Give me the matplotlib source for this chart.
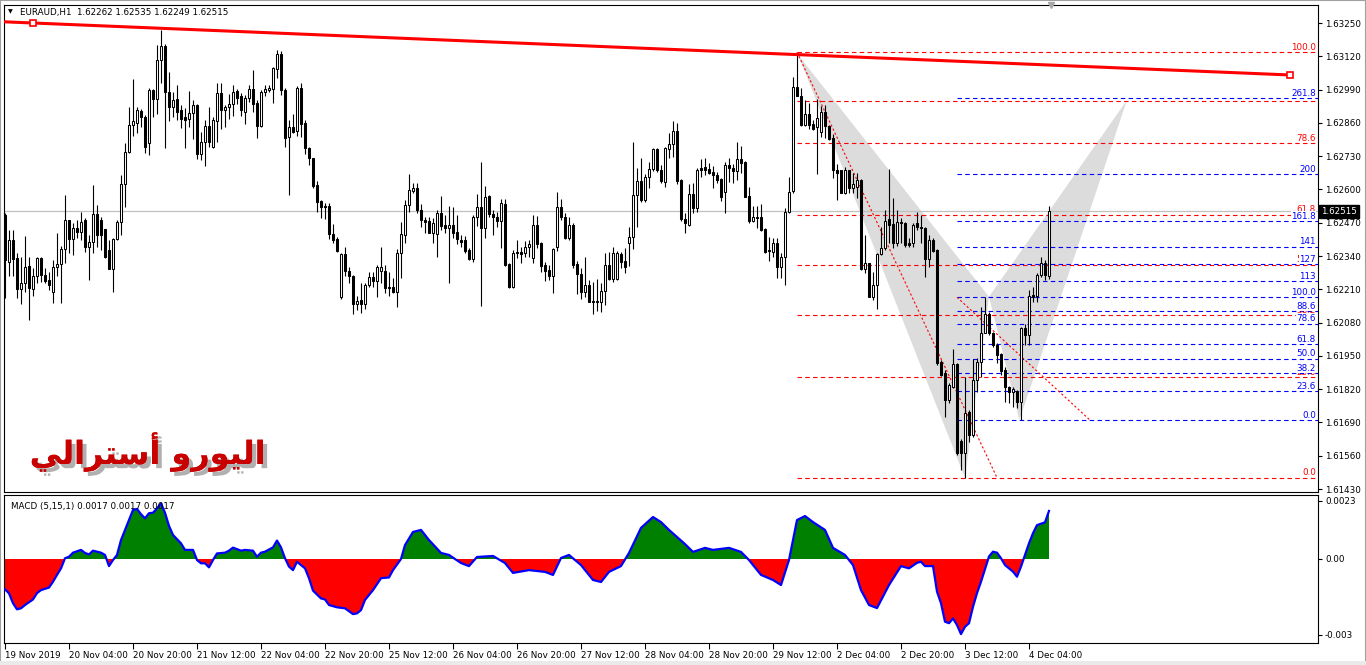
import numpy as np
import matplotlib
matplotlib.use('Agg')
import matplotlib.pyplot as plt
from matplotlib import patheffects as pe
from matplotlib.transforms import blended_transform_factory
from matplotlib.patches import Rectangle

# ---------------- data (EURAUD H1, bar 0 = 19 Nov 2019 12:00) ----------------
opens = [1.62500,1.62318,1.62403,1.62331,1.62210,1.62233,1.62301,1.62210,1.62260,1.62334,
1.62266,1.62246,1.62201,1.62296,1.62308,1.62366,1.62481,1.62405,1.62448,1.62433,
1.62481,1.62377,1.62396,1.62504,1.62481,1.62444,1.62364,1.62288,1.62407,1.62472,
1.62621,1.62745,1.62852,1.62858,1.62907,1.62884,1.62780,1.62989,1.62952,1.63106,
1.63160,1.62980,1.62921,1.62952,1.62911,1.62882,1.62874,1.62897,1.62930,1.62737,
1.62784,1.62848,1.62767,1.62868,1.62978,1.62911,1.62921,1.62934,1.62985,1.62965,
1.62901,1.62956,1.62991,1.62937,1.62848,1.62982,1.62989,1.62993,1.63069,1.63128,
1.62989,1.62804,1.62845,1.62830,1.62995,1.62858,1.62763,1.62722,1.62618,1.62556,
1.62535,1.62535,1.62426,1.62405,1.62179,1.62347,1.62283,1.62262,1.62151,1.62168,
1.62151,1.62226,1.62257,1.62244,1.62283,1.62283,1.62220,1.62218,1.62201,1.62351,
1.62422,1.62539,1.62595,1.62604,1.62519,1.62480,1.62476,1.62431,1.62424,1.62506,
1.62463,1.62448,1.62461,1.62433,1.62402,1.62402,1.62363,1.62328,1.62493,1.62530,
1.62450,1.62574,1.62504,1.62493,1.62478,1.62545,1.62308,1.62220,1.62357,1.62357,
1.62353,1.62374,1.62331,1.62461,1.62392,1.62305,1.62285,1.62263,1.62374,1.62530,
1.62491,1.62411,1.62461,1.62308,1.62269,1.62200,1.62226,1.62164,1.62164,1.62161,
1.62204,1.62305,1.62250,1.62252,1.62348,1.62320,1.62392,1.62415,1.62578,1.62633,
1.62558,1.62647,1.62678,1.62756,1.62676,1.62630,1.62756,1.62776,1.62828,1.62637,
1.62484,1.62461,1.62584,1.62526,1.62682,1.62686,1.62678,1.62669,1.62656,1.62640,
1.62591,1.62695,1.62682,1.62672,1.62717,1.62708,1.62574,1.62478,1.62493,1.62491,
1.62444,1.62363,1.62357,1.62389,1.62298,1.62335,1.62513,1.62592,1.62999,1.62965,
1.62852,1.62895,1.62856,1.62843,1.62826,1.62904,1.62848,1.62800,1.62676,1.62674,
1.62588,1.62674,1.62605,1.62611,1.62637,1.62288,1.62311,1.62181,1.62227,1.62347,
1.62373,1.62483,1.62465,1.62392,1.62474,1.62470,1.62390,1.62390,1.62468,1.62455,
1.62448,1.62327,1.62403,1.62364,1.61927,1.61882,1.61778,1.61830,1.61918,1.61619,
1.61569,1.61732,1.61641,1.61856,1.61927,1.62041,1.62114,1.62041,1.61992,1.61957,
1.61895,1.61827,1.61810,1.61814,1.61771,1.62058,1.62031,1.62188,1.62184,1.62266,
1.62311,1.62262]

highs = [1.62509,1.62442,1.62442,1.62351,1.62335,1.62418,1.62335,1.62292,1.62335,1.62335,
1.62292,1.62279,1.62325,1.62429,1.62379,1.62578,1.62481,1.62468,1.62481,1.62513,
1.62487,1.62422,1.62618,1.62539,1.62494,1.62444,1.62403,1.62409,1.62481,1.62657,
1.62780,1.62921,1.63030,1.62921,1.62913,1.62891,1.62995,1.62991,1.63164,1.63223,
1.63168,1.63060,1.62982,1.63008,1.62930,1.62917,1.62986,1.62950,1.62934,1.62823,
1.62871,1.62921,1.62882,1.63017,1.63015,1.62930,1.62973,1.63008,1.62991,1.62978,
1.62969,1.63008,1.63067,1.62950,1.62989,1.63008,1.63008,1.63080,1.63145,1.63142,
1.62998,1.62871,1.62895,1.63002,1.63017,1.62871,1.62767,1.62722,1.62633,1.62559,
1.62548,1.62546,1.62465,1.62416,1.62351,1.62377,1.62296,1.62266,1.62184,1.62233,
1.62233,1.62279,1.62279,1.62305,1.62377,1.62305,1.62279,1.62253,1.62366,1.62474,
1.62559,1.62659,1.62624,1.62624,1.62545,1.62493,1.62493,1.62487,1.62519,1.62574,
1.62500,1.62535,1.62532,1.62502,1.62422,1.62418,1.62370,1.62500,1.62581,1.62708,
1.62613,1.62578,1.62519,1.62513,1.62561,1.62561,1.62311,1.62363,1.62402,1.62376,
1.62400,1.62402,1.62502,1.62496,1.62396,1.62318,1.62305,1.62370,1.62591,1.62561,
1.62506,1.62493,1.62467,1.62321,1.62292,1.62337,1.62246,1.62239,1.62249,1.62233,
1.62350,1.62357,1.62376,1.62361,1.62357,1.62370,1.62452,1.62784,1.62682,1.62721,
1.62660,1.62708,1.62760,1.62760,1.62695,1.62767,1.62819,1.62868,1.62860,1.62640,
1.62506,1.62621,1.62624,1.62682,1.62717,1.62721,1.62704,1.62691,1.62669,1.62643,
1.62708,1.62721,1.62699,1.62784,1.62769,1.62712,1.62608,1.62535,1.62535,1.62543,
1.62448,1.62415,1.62411,1.62409,1.62350,1.62526,1.62647,1.63041,1.63125,1.62995,
1.62950,1.62937,1.62872,1.62952,1.62924,1.62930,1.62852,1.62817,1.62700,1.62676,
1.62689,1.62676,1.62663,1.62663,1.62640,1.62422,1.62314,1.62279,1.62353,1.62455,
1.62520,1.62679,1.62565,1.62520,1.62487,1.62474,1.62409,1.62468,1.62513,1.62500,
1.62455,1.62422,1.62409,1.62366,1.61934,1.61895,1.61843,1.61976,1.61921,1.61624,
1.61869,1.61739,1.61936,1.61940,1.62142,1.62181,1.62123,1.62045,1.61999,1.61960,
1.61908,1.61832,1.61830,1.61817,1.62064,1.62074,1.62207,1.62220,1.62272,1.62337,
1.62324,1.62535]

lows = [1.62175,1.62260,1.62260,1.62175,1.62153,1.62201,1.62090,1.62184,1.62233,1.62240,
1.62233,1.62207,1.62158,1.62260,1.62158,1.62312,1.62351,1.62344,1.62409,1.62403,
1.62357,1.62246,1.62351,1.62377,1.62364,1.62331,1.62288,1.62201,1.62403,1.62422,
1.62533,1.62741,1.62809,1.62819,1.62843,1.62744,1.62735,1.62881,1.62894,1.63015,
1.62763,1.62869,1.62884,1.62871,1.62839,1.62761,1.62845,1.62797,1.62718,1.62715,
1.62693,1.62765,1.62761,1.62787,1.62835,1.62845,1.62874,1.62887,1.62934,1.62887,
1.62856,1.62943,1.62904,1.62800,1.62845,1.62963,1.62982,1.62939,1.63034,1.62969,
1.62765,1.62578,1.62819,1.62809,1.62806,1.62739,1.62696,1.62604,1.62513,1.62487,
1.62483,1.62405,1.62390,1.62357,1.62171,1.62262,1.62233,1.62114,1.62129,1.62119,
1.62132,1.62220,1.62220,1.62181,1.62233,1.62194,1.62184,1.62197,1.62140,1.62253,
1.62392,1.62513,1.62585,1.62509,1.62454,1.62428,1.62428,1.62389,1.62337,1.62441,
1.62428,1.62233,1.62409,1.62387,1.62376,1.62350,1.62324,1.62315,1.62457,1.62146,
1.62409,1.62493,1.62422,1.62452,1.62370,1.62301,1.62216,1.62216,1.62331,1.62311,
1.62337,1.62337,1.62311,1.62370,1.62279,1.62242,1.62246,1.62194,1.62361,1.62480,
1.62405,1.62402,1.62292,1.62190,1.62174,1.62181,1.62159,1.62112,1.62125,1.62122,
1.62148,1.62246,1.62239,1.62246,1.62292,1.62275,1.62301,1.62366,1.62454,1.62552,
1.62552,1.62604,1.62673,1.62669,1.62626,1.62608,1.62721,1.62728,1.62621,1.62478,
1.62428,1.62457,1.62509,1.62513,1.62647,1.62656,1.62660,1.62607,1.62624,1.62556,
1.62509,1.62630,1.62624,1.62637,1.62663,1.62569,1.62470,1.62474,1.62448,1.62439,
1.62350,1.62321,1.62337,1.62256,1.62253,1.62226,1.62506,1.62585,1.62963,1.62848,
1.62848,1.62835,1.62833,1.62661,1.62804,1.62800,1.62793,1.62644,1.62559,1.62585,
1.62583,1.62585,1.62585,1.62566,1.62285,1.62272,1.62179,1.62168,1.62132,1.62344,
1.62364,1.62390,1.62370,1.62379,1.62392,1.62377,1.62377,1.62374,1.62442,1.62390,
1.62259,1.62296,1.62357,1.61914,1.61871,1.61713,1.61765,1.61823,1.61563,1.61504,
1.61472,1.61615,1.61634,1.61810,1.61869,1.62038,1.62031,1.61986,1.61921,1.61875,
1.61771,1.61765,1.61752,1.61745,1.61699,1.61992,1.61992,1.62162,1.62162,1.62259,
1.62246,1.62249]

closes = [1.62325,1.62403,1.62327,1.62210,1.62233,1.62299,1.62214,1.62260,1.62331,1.62266,
1.62244,1.62227,1.62296,1.62308,1.62366,1.62481,1.62405,1.62448,1.62433,1.62474,
1.62377,1.62396,1.62504,1.62422,1.62422,1.62338,1.62288,1.62407,1.62474,1.62621,
1.62745,1.62852,1.62868,1.62911,1.62882,1.62767,1.62989,1.62952,1.63106,1.63160,
1.62980,1.62921,1.62950,1.62904,1.62877,1.62871,1.62897,1.62930,1.62737,1.62784,
1.62848,1.62784,1.62871,1.62978,1.62911,1.62921,1.62934,1.62980,1.62959,1.62911,
1.62956,1.62993,1.62934,1.62849,1.62982,1.62993,1.62995,1.63076,1.63128,1.62989,
1.62800,1.62843,1.62826,1.62995,1.62854,1.62761,1.62722,1.62615,1.62552,1.62530,
1.62530,1.62426,1.62403,1.62361,1.62347,1.62283,1.62262,1.62151,1.62164,1.62151,
1.62226,1.62257,1.62244,1.62296,1.62296,1.62214,1.62214,1.62201,1.62351,1.62426,
1.62539,1.62598,1.62604,1.62520,1.62480,1.62474,1.62431,1.62467,1.62506,1.62457,
1.62448,1.62461,1.62431,1.62405,1.62396,1.62361,1.62328,1.62493,1.62530,1.62450,
1.62571,1.62504,1.62491,1.62478,1.62548,1.62305,1.62220,1.62353,1.62353,1.62348,
1.62376,1.62387,1.62463,1.62387,1.62302,1.62282,1.62263,1.62366,1.62530,1.62491,
1.62411,1.62461,1.62305,1.62268,1.62200,1.62226,1.62161,1.62159,1.62161,1.62204,
1.62305,1.62250,1.62350,1.62350,1.62318,1.62298,1.62415,1.62578,1.62633,1.62558,
1.62647,1.62678,1.62756,1.62676,1.62634,1.62760,1.62776,1.62828,1.62634,1.62483,
1.62467,1.62584,1.62528,1.62676,1.62676,1.62676,1.62665,1.62656,1.62637,1.62571,
1.62695,1.62682,1.62672,1.62717,1.62704,1.62571,1.62478,1.62491,1.62489,1.62441,
1.62357,1.62359,1.62389,1.62298,1.62335,1.62513,1.62591,1.62999,1.62965,1.62852,
1.62895,1.62852,1.62835,1.62878,1.62904,1.62846,1.62796,1.62676,1.62663,1.62588,
1.62674,1.62605,1.62622,1.62637,1.62288,1.62311,1.62181,1.62227,1.62347,1.62373,
1.62477,1.62461,1.62392,1.62474,1.62468,1.62383,1.62383,1.62461,1.62452,1.62448,
1.62327,1.62403,1.62361,1.61923,1.61875,1.61778,1.61836,1.61918,1.61569,1.61569,
1.61728,1.61641,1.61856,1.61927,1.62041,1.62114,1.62041,1.61992,1.61953,1.61892,
1.61827,1.61810,1.61819,1.61771,1.62058,1.62031,1.62184,1.62181,1.62266,1.62311,
1.62266,1.62515]

macd_bars = [0,1,2,3,4,5,7,8,9,11,12,13,14,15,16,17,19,20,21,22,24,25,26,27,28,29,31,32,33,34,
35,36,37,38,39,40,41,42,44,45,47,48,49,50,51,52,53,55,56,57,59,60,62,63,64,65,67,68,69,70,
71,72,73,75,76,77,79,80,81,83,85,87,88,89,90,92,94,96,97,99,100,102,104,106,109,111,114,116,118,122,
125,127,131,135,137,139,141,144,147,149,151,154,156,159,162,164,166,170,172,175,177,181,184,186,189,192,194,196,198,200,
202,205,207,210,212,214,216,218,221,224,226,228,229,230,232,233,234,235,236,237,238,239,240,241,
242,243,244,245,246,247,248,249,250,252,253,254,255,256,257,258,260,261]
macd_vals = [-0.00120,-0.00136,-0.00175,-0.00199,-0.00195,-0.00182,-0.00160,-0.00135,-0.00123,-0.00113,
-0.00090,-0.00063,-0.00037,0.00003,0.00009,0.00025,0.00036,0.00024,0.00018,0.00033,
0.00025,0.00016,-0.00028,-0.00004,0.00016,0.00075,0.00154,0.00194,0.00198,0.00177,
0.00161,0.00181,0.00183,0.00200,0.00220,0.00183,0.00131,0.00095,0.00062,0.00036,
0.00036,-0.00004,-0.00017,-0.00017,-0.00033,-0.00004,0.00022,0.00025,0.00033,0.00045,
0.00033,0.00036,0.00033,0.00009,0.00025,0.00029,0.00046,0.00073,0.00046,0.00003,
-0.00030,-0.00044,-0.00011,-0.00037,-0.00076,-0.00125,-0.00156,-0.00160,-0.00182,-0.00191,
-0.00195,-0.00218,-0.00215,-0.00202,-0.00162,-0.00123,-0.00076,-0.00073,-0.00044,0.00000,
0.00055,0.00107,0.00115,0.00075,0.00024,0.00016,-0.00016,-0.00028,0.00008,0.00012,
-0.00016,-0.00055,-0.00044,-0.00051,-0.00063,0.00004,0.00016,-0.00024,-0.00083,-0.00091,
-0.00051,-0.00028,0.00024,0.00123,0.00166,0.00146,0.00115,0.00059,0.00028,0.00044,
0.00036,0.00044,0.00028,-0.00004,-0.00063,-0.00083,-0.00103,-0.00004,0.00154,0.00170,
0.00146,0.00115,0.00044,0.00016,-0.00024,-0.00123,-0.00182,-0.00194,-0.00103,-0.00028,
-0.00037,-0.00015,-0.00011,-0.00028,-0.00028,-0.00129,-0.00175,-0.00248,-0.00254,-0.00235,
-0.00261,-0.00297,-0.00268,-0.00254,-0.00189,-0.00135,-0.00090,-0.00040,0.00010,0.00029,
0.00025,0.00003,-0.00024,-0.00050,-0.00070,-0.00030,0.00016,0.00062,0.00102,0.00134,
0.00145,0.00190]

time_tick_bars = [0,16,32,48,64,80,96,112,128,144,160,176,192,208,224,240,256]
time_tick_labels = ['19 Nov 2019','20 Nov 04:00','20 Nov 20:00','21 Nov 12:00','22 Nov 04:00',
                    '22 Nov 20:00','25 Nov 12:00','26 Nov 04:00','26 Nov 20:00','27 Nov 12:00',
                    '28 Nov 04:00','28 Nov 20:00','29 Nov 12:00','2 Dec 04:00','2 Dec 20:00',
                    '3 Dec 12:00','4 Dec 04:00']
price_ticks = [1.63250,1.63120,1.62990,1.62860,1.62730,1.62600,1.62470,1.62340,
               1.62210,1.62080,1.61950,1.61820,1.61690,1.61560,1.61430]
macd_ticks = [0.0023, 0.0, -0.003]
macd_tick_labels = ['0.0023', '0.00', '-0.003']

last_price = 1.62515
header = 'EURAUD,H1  1.62262 1.62535 1.62249 1.62515'
macd_header = 'MACD (5,15,1) 0.0017 0.0017 0.0017'

# trend line anchors (bar, price)
trend_bars = [7, 321.25]
trend_prices = [1.63250, 1.63047]

# Fibonacci retracement (red) and expansion (blue)
red_levels = [0, 23.6, 38.2, 50, 61.8, 78.6, 88.6, 100]
red_labels = ['0.0', '23.6', '38.2', '50.0', '61.8', '78.6', '88.6', '100.0']
red_fib_bars = [198, 248]
red_fib_prices = [1.63136, 1.61474]      # 100 level, 0 level
blue_levels = [0, 23.6, 38.2, 50, 61.8, 78.6, 88.6, 100, 113, 127, 141, 161.8, 200, 261.8]
blue_labels = ['0.0', '23.6', '38.2', '50.0', '61.8', '78.6', '88.6', '100.0',
               '113', '127', '141', '161.8', '200', '261.8']
blue_fib_bars = [238, 271.25]
blue_fib_prices = [1.62179, 1.61699]     # 100 level, 0 level

# harmonic pattern X, A, B, C, D
pattern_bars = [198.3, 240, 246, 253.6, 280.5]
pattern_prices = [1.63125, 1.61473, 1.62181, 1.61699, 1.62949]

arabic_title = "\uFEF2\uFEDF\uFE8D\uFEAE\uFE98\uFEB3\uFE83 \uFEED\uFEAD\uFEEE\uFEF4\uFEDF\uFE8D"  # اليورو أسترالي

# ---------------- figure ----------------
W, H = 1366, 665
fig = plt.figure(figsize=(W / 100, H / 100), dpi=100)
fig.patch.set_facecolor('white')
FS = 6.3
plt.rcParams['font.family'] = ['DejaVu Sans']

def fx(px):
    return px / W

def fy(py):
    return 1 - py / H

ax = fig.add_axes([fx(4), fy(492), fx(1318) - fx(4), fy(5) - fy(492)])
mx = fig.add_axes([fx(4), fy(643), fx(1318) - fx(4), fy(495) - fy(643)])

XL = (-0.25, 328.25)
for a in (ax, mx):
    a.set_xlim(*XL)
    a.set_facecolor('white')
    for s in a.spines.values():
        s.set_color('black')
        s.set_linewidth(0.8)

ax.set_ylim(1.614183, 1.633203)

o = np.array(opens); h = np.array(highs); l = np.array(lows); c = np.array(closes)
idx = np.arange(len(o))
up = c >= o

# harmonic pattern triangles
pb = pattern_bars; pp = pattern_prices
ax.fill([pb[0], pb[1], pb[2]], [pp[0], pp[1], pp[2]], color='#DCDCDC', lw=0, zorder=1)
ax.fill([pb[2], pb[3], pb[4]], [pp[2], pp[3], pp[4]], color='#DCDCDC', lw=0, zorder=1)

# current price line
ax.axhline(last_price, color='#C0C0C0', lw=0.9, zorder=1.5)

# fib levels
def fib_draw(levels, labels, bars, prices, color, zl, box):
    p100, p0 = prices
    for lv, lb in zip(levels, labels):
        y = p0 + lv / 100.0 * (p100 - p0)
        ax.hlines(y, bars[0], XL[1], colors=color, lw=0.8, linestyles=(0, (4, 3)), zorder=zl)
        t = ax.text(XL[1] - 0.5, y + 0.00002, lb, color=color, fontsize=FS, ha='right', va='bottom', zorder=zl + 5)
        if box:
            t.set_bbox(dict(facecolor='white', edgecolor='none', pad=0.2))

fib_draw(red_levels, red_labels, red_fib_bars, red_fib_prices, '#FF0000', 2, False)
fib_draw(blue_levels, blue_labels, blue_fib_bars, blue_fib_prices, '#0000FF', 2.1, True)
ax.plot(red_fib_bars, red_fib_prices, color='#FF0000', lw=0.8, ls=(0, (2, 2)), zorder=2.2)
ax.plot(blue_fib_bars, blue_fib_prices, color='#FF0000', lw=0.8, ls=(0, (2, 2)), zorder=2.2)

# candles
ax.vlines(idx, l, h, color='black', lw=0.8, zorder=3)
bot = np.minimum(o, c); hgt = np.abs(c - o)
ax.bar(idx[up], hgt[up], bottom=bot[up], width=0.5, facecolor='white', edgecolor='black', lw=0.75, zorder=4)
ax.bar(idx[~up], hgt[~up], bottom=bot[~up], width=0.5, facecolor='black', edgecolor='black', lw=0.75, zorder=4)

# red trend line (extended to left edge)
slope = (trend_prices[1] - trend_prices[0]) / (trend_bars[1] - trend_bars[0])
ax.plot([XL[0], trend_bars[1]], [trend_prices[0] + slope * (XL[0] - trend_bars[0]), trend_prices[1]],
        color='#FF0000', lw=2.2, zorder=6, solid_capstyle='butt')
ax.plot(trend_bars, trend_prices, ls='none', marker='s', ms=4, mfc='white', mec='#FF0000', mew=1.2, zorder=7)

# right price axis
ax.yaxis.tick_right()
ax.set_yticks(price_ticks)
ax.set_yticklabels(['%.5f' % v for v in price_ticks])
ax.tick_params(axis='y', direction='out', length=3, width=0.8, labelsize=FS, pad=2, colors='black')
ax.set_xticks([])
trans = blended_transform_factory(ax.transAxes, ax.transData)
ax.text(1.0025, last_price, '%.5f' % last_price, transform=trans, color='white', fontsize=FS,
        ha='left', va='center', zorder=10,
        bbox=dict(boxstyle='square,pad=0.25', facecolor='black', edgecolor='black'))

# header
fig.text(fx(8), fy(12), '\u25BC', fontsize=4.5, va='center', ha='left', color='black')
fig.text(fx(20), fy(12), header, fontsize=FS, va='center', ha='left', color='black')

# shift marker
ax.plot([261.5], [1.0], transform=blended_transform_factory(ax.transData, ax.transAxes),
        marker='v', ms=5, color='#A8A8A8', clip_on=False, zorder=8)

# Arabic title
fig.text(fx(148), fy(452), arabic_title, fontsize=23, fontweight='bold', color='#C80000',
         ha='center', va='center', family=['DejaVu Sans'],
         path_effects=[pe.withSimplePatchShadow(offset=(3, -3), shadow_rgbFace='#707070', alpha=0.55),
                       pe.Normal()])

# MACD panel
mb = np.array(macd_bars, dtype=float); mv = np.array(macd_vals)
mx.set_ylim(-0.003322, 0.002531)
mx.fill_between(mb, mv, 0, where=mv >= 0, interpolate=True, color='#008000', lw=0, zorder=2)
mx.fill_between(mb, mv, 0, where=mv <= 0, interpolate=True, color='#FF0000', lw=0, zorder=2)
mx.plot(mb, mv, color='#0000FF', lw=1.6, zorder=3)
mx.yaxis.tick_right()
mx.set_yticks(macd_ticks)
mx.set_yticklabels(macd_tick_labels)
mx.tick_params(axis='y', direction='out', length=3, width=0.8, labelsize=FS, pad=2)
mx.set_xticks(time_tick_bars)
mx.set_xticklabels(time_tick_labels, ha='left')
mx.tick_params(axis='x', direction='out', length=4, width=0.8, labelsize=FS, pad=1.5)
mx.text(0.005, 0.955, macd_header, transform=mx.transAxes, fontsize=FS, ha='left', va='top')

# window frame
fig.patches.append(Rectangle((0, 0), 1, 1, transform=fig.transFigure, fill=False,
                             edgecolor='#A0A0A0', lw=1.5))
fig.patches.append(Rectangle((0, 0), 1, 4 / H, transform=fig.transFigure, facecolor='#EAEAEA',
                             edgecolor='none'))

fig.savefig('out.png', dpi=100, facecolor='white')
